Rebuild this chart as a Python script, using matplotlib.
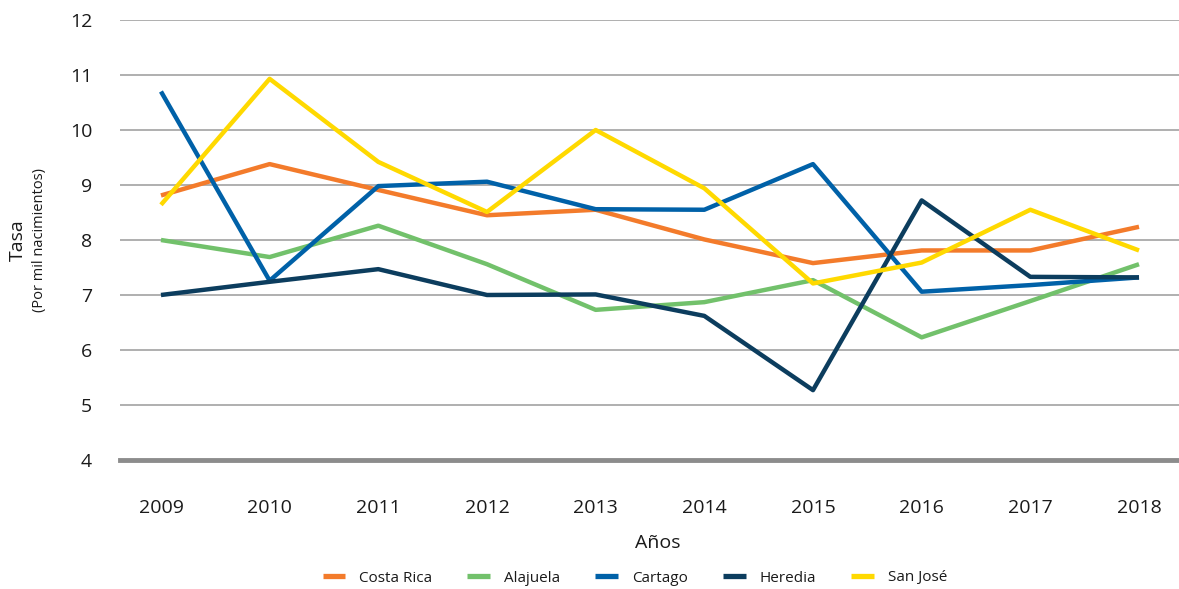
import matplotlib
matplotlib.use("Agg")
import matplotlib.pyplot as plt
from matplotlib.lines import Line2D

years = ["2009", "2010", "2011", "2012", "2013", "2014", "2015", "2016", "2017", "2018"]
costa_rica = [8.81, 9.38, 8.91, 8.45, 8.55, 8.01, 7.58, 7.81, 7.81, 8.24]
alajuela = [8.00, 7.69, 8.26, 7.56, 6.73, 6.87, 7.27, 6.23, 6.89, 7.56]
cartago = [10.70, 7.26, 8.98, 9.06, 8.56, 8.55, 9.38, 7.06, 7.18, 7.32]
heredia = [7.00, 7.24, 7.47, 7.00, 7.01, 6.62, 5.27, 8.72, 7.33, 7.32]
san_jose = [8.64, 10.93, 9.42, 8.51, 10.00, 8.94, 7.21, 7.59, 8.55, 7.81]

series_names = ["Costa Rica", "Alajuela", "Cartago", "Heredia", "San José"]
colors = ["#F37B2B", "#72C16B", "#0061A8", "#0C3D5E", "#FFD900"]
y_ticks = [4, 5, 6, 7, 8, 9, 10, 11, 12]

plt.rcParams['font.family'] = ['Open Sans', 'DejaVu Sans']

fig = plt.figure(figsize=(11.79, 5.89), dpi=100)
ax = fig.add_axes([120/1179, 1-460/589, 1-120/1179, 440/589])

x = list(range(len(years)))
data = [costa_rica, alajuela, cartago, heredia, san_jose]
order = [4, 0, 1, 3, 2]
for i in order:
    ax.plot(x, data[i], color=colors[i], lw=3.2, solid_capstyle='butt', zorder=3 + i * 0.1)

ax.set_xlim(-0.377, 9.368)
ax.set_ylim(4, 12)
ax.set_yticks(y_ticks)
ax.set_yticklabels([str(t) for t in y_ticks], fontsize=14, color="#1a1a1a")
ax.set_xticks(x)
ax.set_xticklabels(years, fontsize=14, color="#1a1a1a")
ax.tick_params(axis='y', length=0, pad=20)
ax.tick_params(axis='x', length=0, pad=28)
for t in y_ticks[1:]:
    ax.axhline(t, color="#9a9a9a", lw=1.1, zorder=1)
ax.axhline(4, color="#8c8c8c", lw=3.5, zorder=2, clip_on=False)
for s in ax.spines.values():
    s.set_visible(False)

fig.text(658/1179, 1-543/589, "Años", ha='center', va='center', fontsize=14, color="#1a1a1a")
fig.text(18/1179, 1-240/589, "Tasa", rotation=90, ha='center', va='center', fontsize=14, color="#1a1a1a")
fig.text(40/1179, 1-240/589, "(Por mil nacimientos)", rotation=90, ha='center', va='center', fontsize=10.5, color="#1a1a1a")

handles = [Line2D([0], [0], color=c, lw=3.8, solid_capstyle='butt') for c in colors]
leg = fig.legend(handles, series_names, loc='center', bbox_to_anchor=(635/1179, 1-578/589),
                 ncol=5, frameon=False, fontsize=11, handlelength=1.5, columnspacing=2.3,
                 handletextpad=0.9)
for t in leg.get_texts():
    t.set_color("#1a1a1a")

fig.savefig("out.png", dpi=100)
